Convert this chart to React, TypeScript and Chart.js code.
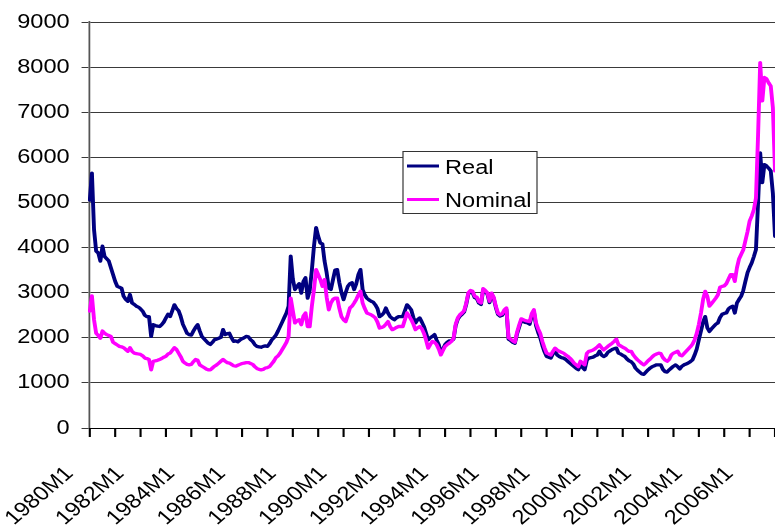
import { useEffect, useRef } from 'react';
import { Chart, registerables } from 'chart.js';

Chart.register(...registerables);

// Monthly index levels, starting 1980M1.
const START_YEAR = 1980;

const real = [
  5050, 5650, 4400, 3920, 3880, 3700, 4030, 3800, 3750, 3700, 3550, 3400,
  3250, 3140, 3120, 3100, 2920, 2850, 2810, 2960, 2770, 2740, 2700, 2680,
  2640, 2590, 2500, 2470, 2470, 2030, 2290, 2270, 2260, 2250, 2290, 2350,
  2440, 2520, 2470, 2600, 2730, 2650, 2600, 2470, 2300, 2200, 2100, 2070,
  2060, 2150, 2230, 2290, 2150, 2030, 1980, 1930, 1880, 1850, 1900, 1960,
  1970, 1990, 2010, 2180, 2070, 2090, 2100, 2000, 1920, 1930, 1910, 1950,
  1980, 2000, 2030, 2020, 1960, 1920, 1850, 1810, 1800, 1790, 1810, 1820,
  1810, 1870, 1950, 2000, 2060, 2150, 2250, 2350, 2450, 2550, 2700, 3810,
  3300, 3070, 3140, 3200, 2990, 3250, 3330, 2880, 3050, 3500, 4030, 4440,
  4250, 4100, 4080, 3700, 3440, 3100, 3070, 3290, 3500, 3510, 3220, 3000,
  2845, 3000, 3140, 3200, 3220, 3070, 3200, 3400, 3510, 3070, 2950, 2880,
  2840, 2810, 2790, 2730, 2650, 2470, 2500, 2550, 2660, 2550, 2470, 2430,
  2400, 2440, 2470, 2470, 2470, 2600, 2730, 2680, 2620, 2450, 2330, 2400,
  2440, 2350, 2250, 2100, 1955, 2000, 2030, 2070, 1950, 1850, 1660, 1750,
  1850, 1900, 1930, 1940, 1970, 2270, 2410, 2480, 2520, 2570, 2740, 2970,
  3020, 3000, 2890, 2870, 2770, 2740, 3060, 3020, 2970, 2780, 2960, 2870,
  2670, 2520, 2480, 2500, 2590, 2630, 1970, 1940, 1900, 1880, 2080, 2230,
  2380, 2360, 2340, 2330, 2300, 2490, 2580, 2270, 2120, 2000, 1830, 1690,
  1585, 1570, 1550, 1650, 1700, 1620, 1585, 1560, 1550, 1520, 1480, 1440,
  1400, 1360, 1320, 1290, 1400, 1340, 1290, 1500, 1550, 1560, 1570, 1600,
  1620, 1700, 1620, 1585, 1610, 1680, 1710, 1740, 1760, 1770, 1660, 1640,
  1610, 1585, 1530, 1490, 1470, 1420, 1330, 1280, 1240, 1200, 1190, 1240,
  1290, 1330, 1360, 1380, 1400, 1400, 1400, 1300, 1250, 1240, 1290, 1330,
  1370, 1400, 1360, 1310, 1370, 1400, 1420, 1440, 1470, 1510, 1620, 1750,
  1955, 2150, 2350, 2470, 2220, 2140, 2200, 2250, 2300, 2330, 2450, 2520,
  2540, 2550, 2640, 2680, 2700, 2550, 2770, 2850, 2920, 3050, 3250, 3440,
  3560, 3660, 3800, 3955, 5000, 6100, 5440, 5840, 5810, 5760, 5700, 5200,
  4250,
];

const nominal = [
  2590, 2930, 2400, 2100, 2050, 1990, 2150, 2100, 2070, 2050, 2030, 1900,
  1870, 1840, 1810, 1800, 1780, 1740, 1700, 1780, 1700, 1660, 1650, 1640,
  1630, 1600, 1550, 1540, 1520, 1290, 1480, 1490, 1500, 1520, 1540, 1570,
  1590, 1640, 1660, 1720, 1780, 1740, 1660, 1580, 1480, 1440, 1410, 1400,
  1410, 1470, 1520, 1500, 1400, 1370, 1340, 1310, 1290, 1290, 1330, 1370,
  1400, 1440, 1480, 1520, 1480, 1450, 1440, 1410, 1380, 1370, 1390, 1410,
  1430, 1440, 1450, 1450, 1430, 1410, 1360, 1320, 1300, 1290, 1300, 1330,
  1340, 1360, 1420, 1480, 1560, 1600, 1660, 1740, 1820, 1900, 2030, 2880,
  2600, 2330, 2380, 2400, 2290, 2480, 2550, 2250, 2250, 2700, 3070, 3510,
  3400, 3290, 3140, 3290, 2900, 2620, 2770, 2850, 2880, 2880, 2650, 2470,
  2400, 2360, 2500, 2660, 2700, 2770, 2850, 2950, 3030, 2770, 2650, 2550,
  2530, 2510, 2480, 2440, 2350, 2215, 2230, 2250, 2300, 2360, 2250, 2180,
  2200, 2230, 2250, 2250, 2250, 2400, 2550, 2480, 2400, 2300, 2180, 2220,
  2250, 2200, 2100, 1950, 1770, 1850, 1920, 1900, 1850, 1750, 1620, 1720,
  1810, 1850, 1880, 1920, 1990, 2300, 2440, 2510, 2550, 2600, 2770, 3000,
  3050, 3030, 2920, 2900, 2800, 2770, 3090, 3050, 3000, 2810, 2990, 2900,
  2700, 2550, 2510, 2530, 2620, 2660, 2000, 1970, 1930, 1900, 2120, 2280,
  2420, 2400, 2380, 2370, 2360, 2540, 2620, 2330, 2200, 2100, 1920, 1780,
  1660, 1640, 1620, 1700, 1770, 1730, 1700, 1680, 1660, 1620, 1590, 1550,
  1500, 1440, 1400, 1360, 1480, 1440, 1400, 1650, 1700, 1710, 1730, 1760,
  1800, 1845, 1780, 1730, 1770, 1810, 1845, 1880, 1920, 1970, 1845, 1820,
  1790, 1770, 1730, 1700, 1700, 1620, 1560, 1510, 1470, 1430, 1400, 1440,
  1490, 1530, 1580, 1620, 1640, 1660, 1650, 1560, 1510, 1480, 1520, 1620,
  1660, 1680, 1700, 1620, 1600, 1650, 1700, 1750, 1800, 1860, 1955, 2100,
  2300, 2550, 2850, 3030, 2920, 2700, 2760, 2820, 2880, 2950, 3120, 3140,
  3150, 3200, 3300, 3400, 3400, 3250, 3550, 3750, 3850, 3950, 4150, 4350,
  4590, 4700, 4840, 5100, 6500, 8100, 7250, 7770, 7740, 7650, 7580, 7100,
  5700,
];

// Category names: one per month ("1980M1", "1980M2", ...).
const months = real.map((_, i) => `${START_YEAR + Math.floor(i / 12)}M${(i % 12) + 1}`);

// Categories that carry a visible label on the x axis.
const tickLabels = [
  '1980M1', '1982M1', '1984M1', '1986M1', '1988M1', '1990M1', '1992M1',
  '1994M1', '1996M1', '1998M1', '2000M1', '2002M1', '2004M1', '2006M1',
];

const W = 775;
const H = 525;
// The whole drawing is widened horizontally by this factor.
const STRETCH = 1.18;
const PLOT_LEFT = 87;
const PLOT_TOP = 22;
const PLOT_BOTTOM = 428;
const TICK_LEN = 9;
const FONT = "'Liberation Sans', Arial, sans-serif";

const isYearStart = (i: number) => i % 12 === 0;

// Short marks below the x axis at every January.
function drawYearTicks(chart: Chart) {
  const ctx = chart.ctx;
  const xScale: any = chart.scales.x;
  const top = chart.chartArea.bottom;
  ctx.save();
  ctx.strokeStyle = '#000000';
  ctx.lineWidth = 1.8;
  ctx.beginPath();
  months.forEach((_, i) => {
    if (!isYearStart(i)) return;
    const x = xScale.getPixelForValue(i);
    ctx.moveTo(x, top);
    ctx.lineTo(x, top + TICK_LEN);
  });
  ctx.stroke();
  ctx.restore();
}

// Boxed legend floating inside the plot area.
function drawLegend(chart: Chart) {
  const ctx = chart.ctx;
  const x0 = 403 / STRETCH;
  const x1 = 537 / STRETCH;
  const y0 = 151;
  const y1 = 213;
  const rows = [166, 199.5];
  ctx.save();
  ctx.fillStyle = '#ffffff';
  ctx.fillRect(x0, y0, x1 - x0, y1 - y0);
  ctx.strokeStyle = '#333333';
  ctx.lineWidth = 1;
  ctx.strokeRect(x0, y0 + 0.5, x1 - x0, y1 - y0);
  chart.data.datasets.forEach((ds: any, i: number) => {
    const y = rows[i];
    ctx.strokeStyle = ds.borderColor;
    ctx.lineWidth = 3;
    ctx.beginPath();
    ctx.moveTo(407 / STRETCH, y);
    ctx.lineTo(439 / STRETCH, y);
    ctx.stroke();
    ctx.fillStyle = '#000000';
    ctx.font = `20px ${FONT}`;
    ctx.textAlign = 'left';
    ctx.textBaseline = 'middle';
    ctx.fillText(ds.label, 445 / STRETCH, y + 2);
  });
  ctx.restore();
}

const stretchPlugin = {
  id: 'stretchAndLegend',
  beforeDraw(chart: Chart) {
    chart.ctx.save();
    chart.ctx.setTransform(STRETCH, 0, 0, 1, 0, 0);
  },
  afterDraw(chart: Chart) {
    drawYearTicks(chart);
    drawLegend(chart);
    chart.ctx.restore();
  },
};

export default function App() {
  const ref = useRef<HTMLCanvasElement>(null);

  useEffect(() => {
    const canvas = ref.current;
    if (!canvas) return;
    const chart = new Chart(canvas, {
      type: 'line',
      data: {
        labels: months,
        datasets: [
          {
            label: 'Real',
            data: real,
            borderColor: '#000080',
            backgroundColor: '#000080',
            borderWidth: 3.3,
            pointRadius: 0,
            order: 1,
          },
          {
            label: 'Nominal',
            data: nominal,
            borderColor: '#ff00ff',
            backgroundColor: '#ff00ff',
            borderWidth: 3.3,
            pointRadius: 0,
            order: 0,
          },
        ],
      },
      options: {
        animation: false,
        responsive: false,
        devicePixelRatio: 1,
        events: [],
        layout: { padding: { top: PLOT_TOP, right: W - W / STRETCH, left: 0, bottom: 0 } },
        plugins: { legend: { display: false }, tooltip: { enabled: false } },
        elements: { line: { tension: 0, borderJoinStyle: 'round', borderCapStyle: 'round' } },
        scales: {
          x: {
            type: 'category',
            offset: false,
            grid: {
              drawOnChartArea: false,
              drawTicks: true,
              tickLength: TICK_LEN,
              tickColor: 'rgba(0,0,0,0)',
            },
            border: { display: true, color: '#000000', width: 1 },
            ticks: {
              autoSkip: false,
              minRotation: 45,
              maxRotation: 45,
              padding: 25,
              labelOffset: -17,
              color: '#000000',
              font: { family: FONT, size: 20 },
              callback: (_v: any, i: number) => (tickLabels.includes(months[i]) ? months[i] : ''),
            },
            afterFit: (s: any) => {
              s.height = H - PLOT_BOTTOM;
            },
          },
          y: {
            min: 0,
            max: 9000,
            ticks: {
              stepSize: 1000,
              padding: 10,
              color: '#000000',
              font: { family: FONT, size: 20 },
              callback: (v: any) => String(v),
            },
            grid: { color: '#3a3a3a', lineWidth: 1, tickLength: 7, drawTicks: true },
            border: { display: true, color: '#555555', width: 1.5 },
            afterFit: (s: any) => {
              s.width = PLOT_LEFT / STRETCH;
            },
          },
        },
      },
      plugins: [stretchPlugin],
    });
    return () => chart.destroy();
  }, []);

  return (
    <div style={{ position: 'fixed', left: 0, top: 0, width: W, height: H, background: '#ffffff' }}>
      <canvas ref={ref} width={W} height={H} style={{ display: 'block' }} />
    </div>
  );
}
